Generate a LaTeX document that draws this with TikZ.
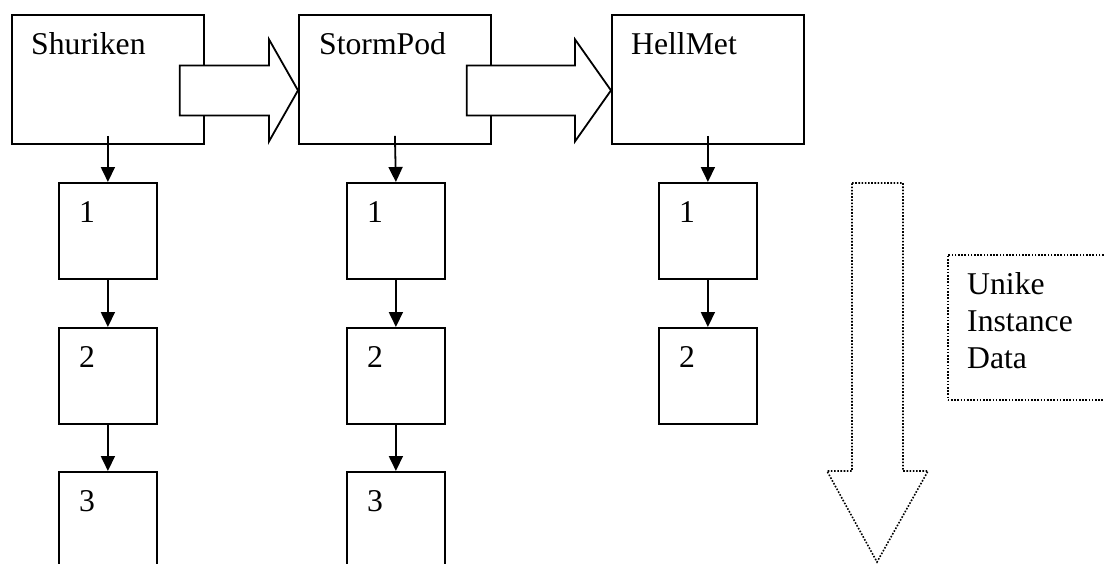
\documentclass[tikz,border=0pt]{standalone}
\usepackage{fontspec}
\setmainfont{Liberation Serif}
\usetikzlibrary{arrows.meta,calc}
\newcommand\blockarrow[3]{%
  \path ($(#1.east)+(-25,11)$) coordinate (bl) ($(#2.west)+(0,11)$) coordinate (tp);
  \draw[blk] ($(bl)+(0,-25)$) -- ($(tp)+(-#3,-25)$) -- ($(tp)+(-#3,-51)$) -- (tp)
    -- ($(tp)+(-#3,51)$) -- ($(tp)+(-#3,25)$) -- ($(bl)+(0,25)$) -- cycle;
}
\begin{document}
\begin{tikzpicture}[x=1pt,y=-1pt,
  box/.style={draw,line width=1.8pt,inner sep=0pt,anchor=north west},
  big/.style={box,minimum width=192pt,minimum height=129pt},
  small/.style={box,minimum width=98pt,minimum height=96pt},
  lbl/.style={anchor=base west,inner sep=0pt,font=\fontsize{31.7}{37}\selectfont},
  arr/.style={line width=1.8pt,-{Triangle[length=15pt,width=14pt]}},
  blk/.style={draw,fill=white,line width=1.8pt,line join=miter},
  dotline/.style={line width=1.6pt,dash pattern=on 1.6pt off 1.6pt}
]
\useasboundingbox (0,0) rectangle (1104,563);
% big boxes
\node[big] (s1) at (11,14) {};
\node[big] (s2) at (298,14) {};
\node[big] (s3) at (611,14) {};
% small boxes
\node[small] (a1) at (58,182) {};
\node[small] (a2) at (58,327) {};
\node[small] (a3) at (58,471) {};
\node[small] (b1) at (346,182) {};
\node[small] (b2) at (346,327) {};
\node[small] (b3) at (346,471) {};
\node[small] (c1) at (658,182) {};
\node[small] (c2) at (658,327) {};
% block arrows
\blockarrow{s1}{s2}{29}
\blockarrow{s2}{s3}{36}
% labels
\node[lbl] at ($(s1.north west)+(20,40)$) {Shuriken};
\node[lbl] at ($(s2.north west)+(21,40)$) {StormPod};
\node[lbl] at ($(s3.north west)+(20,40)$) {HellMet};
\foreach \n/\t in {a1/1,a2/2,a3/3,b1/1,b2/2,b3/3,c1/1,c2/2}
  \node[lbl] at ($(\n.north west)+(21,40)$) {\t};
% small arrows
\draw[arr] ($(s1.south)+(0,-9)$) -- (a1.north);
\draw[arr] (a1.south) -- (a2.north);
\draw[arr] (a2.south) -- (a3.north);
\draw[arr] ($(s2.south)+(0,-9)$) -- (b1.north);
\draw[arr] (b1.south) -- (b2.north);
\draw[arr] (b2.south) -- (b3.north);
\draw[arr] ($(s3.south)+(0,-9)$) -- (c1.north);
\draw[arr] (c1.south) -- (c2.north);
% dotted down arrow
\draw[dotline] (852,183) -- (903,183) -- (903,471) -- (928,471) -- (877,562)
  -- (827,471) -- (852,471) -- cycle;
% dotted note box
\node[box,dotline,minimum width=175pt,minimum height=145pt] (u) at (947,254) {};
\node[lbl] at ($(u.north west)+(20,40)$) {\vtop{\hbox{Unike}\hbox{Instance}\hbox{Data}}};
\end{tikzpicture}
\end{document}
